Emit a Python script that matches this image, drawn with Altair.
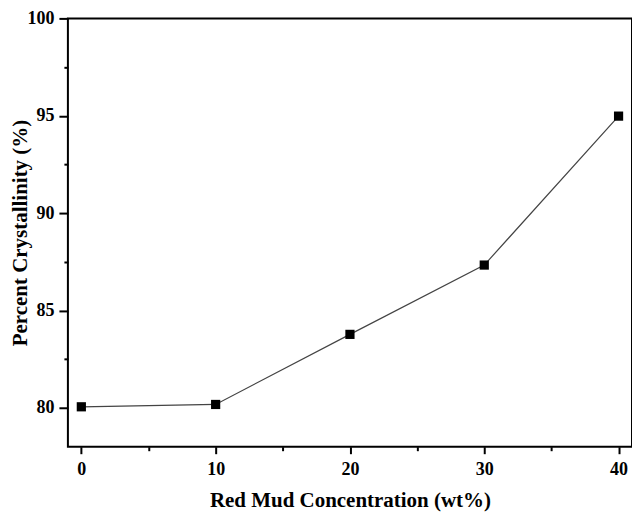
import altair as alt
import pandas as pd

concentration = [0, 10, 20, 30, 40]
crystallinity = [80.05, 80.17, 83.77, 87.33, 94.98]

x_ticks = [0, 5, 10, 15, 20, 25, 30, 35, 40]
y_ticks = [80, 82.5, 85, 87.5, 90, 92.5, 95, 97.5, 100]

df = pd.DataFrame({"conc": concentration, "cryst": crystallinity})

FONT = "'Liberation Serif', 'Times New Roman', Times, serif"

x_enc = alt.X(
    "conc:Q",
    scale=alt.Scale(domain=[-1, 41], nice=False, zero=False),
    axis=alt.Axis(
        title="Red Mud Concentration (wt%)",
        values=x_ticks,
        labelExpr="datum.value % 10 === 0 ? datum.label : ''",
        tickSize={"condition": {"test": "datum.value % 10 === 0", "value": 7}, "value": 4},
        tickWidth=2,
        tickColor="black",
        domain=False,
        grid=False,
        labelFont=FONT,
        labelFontSize=18,
        labelFontWeight="bold",
        labelColor="black",
        labelPadding=7,
        labelFlush=False,
        titleFont=FONT,
        titleFontSize=21,
        titleFontWeight="bold",
        titleColor="black",
        titleBaseline="alphabetic",
        titleX=282.5,
        titleY=60,
    ),
)

y_enc = alt.Y(
    "cryst:Q",
    scale=alt.Scale(domain=[78, 100], nice=False, zero=False),
    axis=alt.Axis(
        title="Percent Crystallinity (%)",
        values=y_ticks,
        labelExpr="datum.value % 5 === 0 ? datum.label : ''",
        tickSize={"condition": {"test": "datum.value % 5 === 0", "value": 9}, "value": 4},
        tickWidth=2,
        tickColor="black",
        domain=False,
        grid=False,
        labelFont=FONT,
        labelFontSize=18,
        labelFontWeight="bold",
        labelColor="black",
        labelPadding=5,
        labelFlush=False,
        titleFont=FONT,
        titleFontSize=21,
        titleFontWeight="bold",
        titleColor="black",
        titleBaseline="alphabetic",
        titleAngle=270,
        titleX=-41,
        titleY=214.5,
    ),
)

base = alt.Chart(df)
line = base.mark_line(color="#444444", strokeWidth=1.2).encode(x=x_enc, y=y_enc)
pts = base.mark_point(shape="square", filled=True, color="black", size=85, opacity=1).encode(
    x="conc:Q", y="cryst:Q"
)

chart = (
    alt.layer(line, pts)
    .properties(
        width=565,
        height=429,
        padding={"left": 60, "top": 10, "right": 0, "bottom": 70},
        autosize=alt.AutoSizeParams(type="none"),
        background="white",
    )
    .configure_view(stroke="black", strokeWidth=2)
)

chart.save("out.html", embed_options={"renderer": "svg", "actions": False})
